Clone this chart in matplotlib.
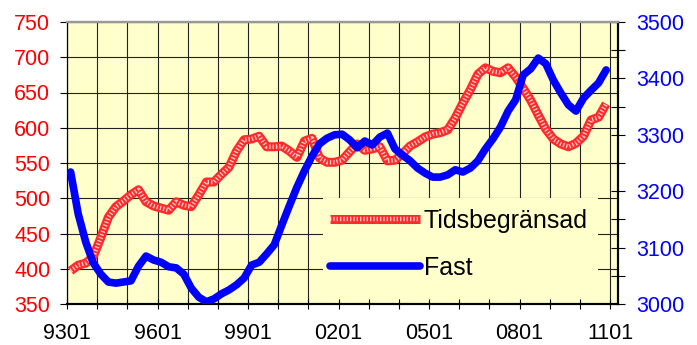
import matplotlib
matplotlib.use("Agg")
import matplotlib.pyplot as plt
import numpy as np
from matplotlib.patches import Rectangle

plt.rcParams["font.family"] = ["Liberation Sans", "DejaVu Sans"]

# quarterly points, Jan 1993 .. late 2010
t = 1993.12 + 0.25 * np.arange(72)

tidsbegransad = [
    397, 405, 408, 417, 444, 473, 488, 496, 505, 512,
    495, 489, 486, 483, 495, 490, 488, 505, 523, 523,
    534, 544, 567, 583, 584, 588, 573, 573, 574, 567,
    558, 581, 585, 557, 551, 551, 554, 566, 577, 568,
    570, 573, 553, 554, 563, 574, 580, 587, 591, 593,
    597, 614, 635, 654, 676, 685, 680, 678, 685, 672,
    656, 639, 618, 598, 584, 577, 573, 578, 588, 611,
    615, 634,
]
fast = [
    3234, 3160, 3110, 3073, 3053, 3039, 3037, 3039, 3041, 3067,
    3085, 3078, 3074, 3066, 3064, 3053, 3028, 3012, 3004, 3009,
    3018, 3025, 3034, 3046, 3069, 3074, 3089, 3105, 3140, 3174,
    3207, 3236, 3262, 3284, 3294, 3300, 3301, 3291, 3277, 3289,
    3282, 3296, 3303, 3275, 3264, 3254, 3241, 3232, 3225, 3225,
    3229, 3238, 3234, 3241, 3254, 3275, 3293, 3314, 3342, 3362,
    3406, 3417, 3436, 3426, 3397, 3374, 3353, 3342, 3365, 3379,
    3392, 3415,
]

year_ticks = np.arange(1993, 2012)
label_years = ["9301", "", "", "9601", "", "", "9901", "", "", "0201",
               "", "", "0501", "", "", "0801", "", "", "1101"]
left_ticks = np.arange(350, 751, 50)
right_ticks = np.arange(3000, 3501, 100)

BG = "#ffffcc"
RED = "#ff0000"
BLUE = "#0000ff"

fig = plt.figure(figsize=(6.97, 3.45), dpi=100)
ax = fig.add_axes([67 / 697, 1 - 304 / 345, 551 / 697, 282 / 345])
ax.set_facecolor(BG)
ax.set_axisbelow(False)

ax.set_xlim(1993, 1993 + 551 / 30.17)
ax.set_ylim(350, 750)

for yr in year_ticks:
    ax.axvline(yr, color="#222222", lw=0.8, zorder=1)
for v in left_ticks:
    ax.axhline(v, color="#222222", lw=0.8, zorder=1)

# legend background box hides the grid
ax.add_patch(Rectangle((0.4646, 0.0), 0.4991, 0.376, transform=ax.transAxes,
                       facecolor=BG, edgecolor="none", zorder=1.5))

red_base, = ax.plot(t, tidsbegransad, color="#ff2a2a", lw=6.5, zorder=3,
                    solid_capstyle="butt")
red_tex, = ax.plot(t, tidsbegransad, color="white", lw=3.2, zorder=3.1,
                   ls=(0, (0.3, 0.45)), alpha=0.75)

ax.set_xticks(year_ticks)
ax.set_xticklabels(label_years)
ax.set_yticks(left_ticks)
ax.tick_params(axis="x", direction="inout", length=7, width=0.8, pad=10.5,
               labelsize=15.5, colors="black")
ax.tick_params(axis="y", direction="out", length=5, width=0.8, pad=7,
               labelsize=15.5, labelcolor=RED)

ax2 = ax.twinx()
ax2.set_ylim(3000, 3500)
ax2.set_yticks(right_ticks)
ax2.set_yticks(np.arange(3050, 3500, 100), minor=True)
ax2.tick_params(axis="y", which="both", direction="inout", length=10,
                width=0.8, pad=8, labelsize=15.5, labelcolor=BLUE)
blue_line, = ax2.plot(t, fast, color=BLUE, lw=5.5, solid_capstyle="round",
                      solid_joinstyle="round", zorder=4)

for a in (ax, ax2):
    a.spines["top"].set_color("#999999")
    a.spines["top"].set_linewidth(1.6)
    a.spines["left"].set_linewidth(0.8)
    a.spines["bottom"].set_linewidth(1.5)
    a.spines["right"].set_linewidth(1.5)

leg = ax2.legend([(red_base, red_tex), blue_line], ["Tidsbegränsad", "Fast"],
                 loc="upper left", bbox_to_anchor=(330 / 697, 1 - 209 / 345),
                 bbox_transform=fig.transFigure, frameon=False, fontsize=18,
                 handlelength=3.6, handletextpad=0.15, labelspacing=0.92,
                 borderpad=0, borderaxespad=0)

fig.savefig("out.png", dpi=100, facecolor="white")
